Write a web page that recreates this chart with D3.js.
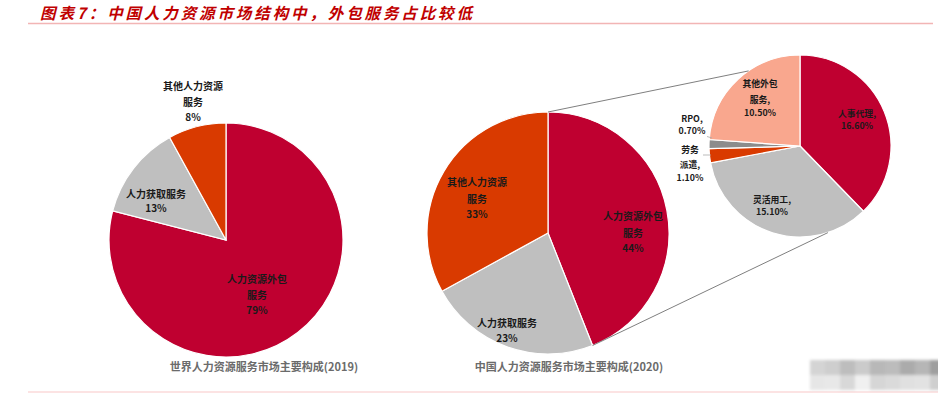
<!DOCTYPE html>
<html><head><meta charset="utf-8">
<script src="https://cdn.jsdelivr.net/npm/d3@7/dist/d3.min.js"></script>
<style>
body{margin:0;background:#fff;}
svg{display:block;font-family:"Noto Sans CJK SC","Liberation Sans",sans-serif;}
</style></head><body>
<svg id="chart" width="938" height="393"></svg>
<script>
const titleText = "图表7：中国人力资源市场结构中，外包服务占比较低";

const worldCats = ["人力资源外包\n服务", "人力获取服务", "其他人力资源\n服务"];
const worldVals = [79, 13, 8];
const worldLabels = ["79%", "13%", "8%"];
const worldCaption = "世界人力资源服务市场主要构成(2019)";

const chinaCats = ["人力资源外包\n服务", "人力获取服务", "其他人力资源\n服务"];
const chinaVals = [44, 23, 33];
const chinaLabels = ["44%", "23%", "33%"];
const chinaCaption = "中国人力资源服务市场主要构成(2020)";

const outCats = ["人事代理,", "灵活用工,", "劳务\n派遣,", "RPO,", "其他外包\n服务,"];
const outVals = [16.6, 15.1, 1.1, 0.7, 10.5];
const outLabels = ["16.60%", "15.10%", "1.10%", "0.70%", "10.50%"];

const colRed = "#BF0030", colGrey = "#BFBFBF", colOrange = "#D93A00", colSalmon = "#F9A78E", colDark = "#8C8C8C";
const mainColors = [colRed, colGrey, colOrange];
const outColors = [colRed, colGrey, colOrange, colDark, colSalmon];

const svg = d3.select("#chart");

// title
svg.append("text").attr("x", 40).attr("y", 18.5)
  .attr("font-size", 15.5).attr("font-style", "italic").attr("font-weight", "bold")
  .attr("fill", "#C00000").attr("textLength", 432).attr("lengthAdjust", "spacing")
  .text(titleText);
svg.append("line").attr("x1", 28).attr("x2", 933).attr("y1", 23.5).attr("y2", 23.5)
  .attr("stroke", "#F2B5B5").attr("stroke-width", 1.5);
svg.append("line").attr("x1", 28).attr("x2", 938).attr("y1", 392).attr("y2", 392)
  .attr("stroke", "#FBDADA").attr("stroke-width", 1.5);

function drawPie(cx, cy, r, vals, colors) {
  const pie = d3.pie().sort(null).value(d => d);
  const arcs = pie(vals);
  const arc = d3.arc().innerRadius(0).outerRadius(r);
  const g = svg.append("g").attr("transform", `translate(${cx},${cy})`);
  g.selectAll("path").data(arcs).join("path")
    .attr("d", arc).attr("fill", (d, i) => colors[i])
    .attr("stroke", "#fff").attr("stroke-width", 1.2);
  return arcs;
}

function label(x, y, lines, size, lineGap, color) {
  const t = svg.append("text").attr("text-anchor", "middle")
    .attr("font-size", size).attr("font-weight", "bold").attr("fill", color || "#1a1a1a");
  lines.forEach((s, i) => {
    t.append("tspan").attr("x", x).attr("y", y + lineGap[i]).text(s);
  });
}

// Pie 1
const p1 = {cx: 226, cy: 240, r: 117};
drawPie(p1.cx, p1.cy, p1.r, worldVals, mainColors);
const worldPos = [[31, 43], [-70, -42], [-33, -150]];
worldCats.forEach((c, i) => {
  const lines = c.split("\n").concat([worldLabels[i]]);
  const gaps = lines.length === 3 ? [0, 16, 31] : [0, 14];
  label(p1.cx + worldPos[i][0], p1.cy + worldPos[i][1], lines, 10, gaps);
});
svg.append("text").attr("x", 264).attr("y", 371).attr("text-anchor", "middle")
  .attr("font-size", 11).attr("font-weight", "bold").attr("fill", "#6b6b6b").text(worldCaption);

// Pie 2
const p2 = {cx: 548, cy: 233, r: 121};
const arcs2 = drawPie(p2.cx, p2.cy, p2.r, chinaVals, mainColors);
const chinaPos = [[85, -13], [-41, 94], [-71, -47]];
chinaCats.forEach((c, i) => {
  const lines = c.split("\n").concat([chinaLabels[i]]);
  const gaps = lines.length === 3 ? [0, 17, 32] : [0, 15];
  label(p2.cx + chinaPos[i][0], p2.cy + chinaPos[i][1], lines, 10, gaps);
});
svg.append("text").attr("x", 569).attr("y", 371).attr("text-anchor", "middle")
  .attr("font-size", 11).attr("font-weight", "bold").attr("fill", "#6b6b6b").text(chinaCaption);

// Pie 3
const p3 = {cx: 800, cy: 146, r: 91};
drawPie(p3.cx, p3.cy, p3.r, outVals, outColors);

// connectors (angles from the data)
function pt(p, a) { return [p.cx + p.r * Math.sin(a), p.cy - p.r * Math.cos(a)]; }
const a2Start = arcs2[0].startAngle, a2End = arcs2[0].endAngle;
const c1a = pt(p2, a2Start), c1b = pt(p3, -0.6);
const c2a = pt(p2, a2End), c2b = pt(p3, 2.83);
[[c1a, c1b], [c2a, c2b]].forEach(([a, b]) => {
  svg.append("line").attr("x1", a[0]).attr("y1", a[1]).attr("x2", b[0]).attr("y2", b[1])
    .attr("stroke", "#7f7f7f").attr("stroke-width", 1);
});

const outPos = [[57, -29], [-28, 57], [-110, 7], [-108, -24], [-40, -59]];
outCats.forEach((c, i) => {
  const lines = c.split("\n").concat([outLabels[i]]);
  let gaps = [0, 16, 29];
  if (i === 0 || i === 1) gaps = [0, 12];
  if (i === 3) gaps = [0, 12];
  if (i === 2) gaps = [0, 15, 28];
  label(p3.cx + outPos[i][0], p3.cy + outPos[i][1], lines, 8.8, gaps);
});
// small leader ticks for RPO and 劳务派遣
svg.append("line").attr("x1", 707).attr("y1", 136.5).attr("x2", 712).attr("y2", 138)
  .attr("stroke", "#aaa").attr("stroke-width", 0.8);
svg.append("line").attr("x1", 703).attr("y1", 155).attr("x2", 711).attr("y2", 155)
  .attr("stroke", "#aaa").attr("stroke-width", 0.8);

// blurred watermark
const defs = svg.append("defs");
defs.append("filter").attr("id", "blur").append("feGaussianBlur").attr("stdDeviation", 1.5);
const wm = svg.append("g").attr("filter", "url(#blur)");
const topShades = ["#d4d4d4", "#cecece", "#bdbdbd", "#cbcbcb", "#b8b8b8", "#bcbcbc", "#ababab", "#b6b6b6", "#9f9f9f"];
const botShades = ["#e6e6e6", "#e8e8e8", "#d8d8d8", "#f0f0f0", "#d6d6d6", "#dadada", "#e0e0e0", "#e2e2e2", "#cfcfcf"];
topShades.forEach((c, i) => {
  wm.append("rect").attr("x", 810 + i * 15).attr("y", 360).attr("width", 15).attr("height", 15).attr("fill", c);
  wm.append("rect").attr("x", 810 + i * 15).attr("y", 375).attr("width", 15).attr("height", 15).attr("fill", botShades[i]);
});
</script>
</body></html>
